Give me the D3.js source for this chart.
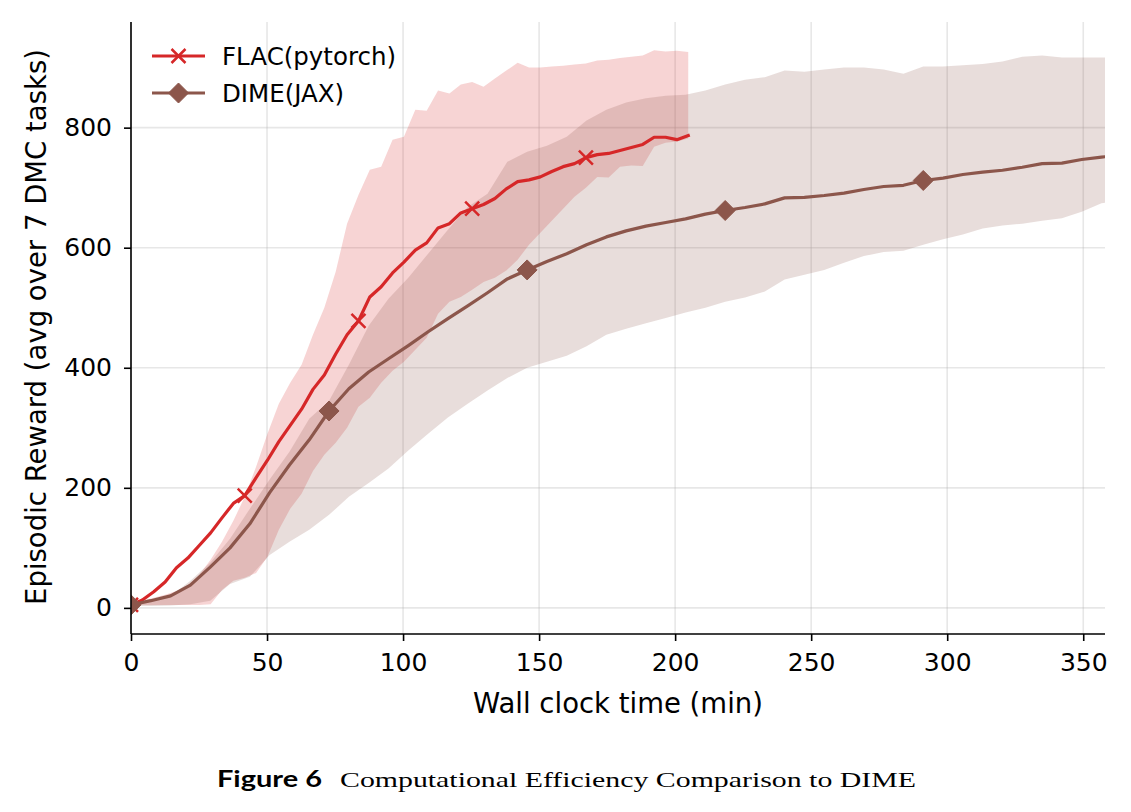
<!DOCTYPE html>
<html>
<head>
<meta charset="utf-8">
<script src="https://cdn.jsdelivr.net/npm/d3@7"></script>
<style>
  html, body { margin: 0; padding: 0; background: #fff; }
  svg { display: block; }
</style>
</head>
<body>
<div id="chart"></div>
<script>
// ---------------- DATA ----------------
const seriesNames = ["FLAC(pytorch)", "DIME(JAX)"];
const xTicks = [0, 50, 100, 150, 200, 250, 300, 350];
const yTicks = [0, 200, 400, 600, 800];

const flacTime = [0,4.18,8.36,12.54,16.72,20.9,25.08,29.26,33.44,37.62,41.8,45.98,50.16,54.34,58.52,62.7,66.88,71.06,75.24,79.42,83.6,87.78,91.96,96.14,100.32,104.5,108.68,112.86,117.04,121.22,125.4,129.58,133.76,137.94,142.12,146.3,150.48,154.66,158.84,163.02,167.2,171.38,175.56,179.74,183.92,188.1,192.28,196.46,200.64,204.82];
const flacMean = [5,13,27,43,67,83,104,125,150,174,187,217,246,277,304,331,364,388,423,455,478,518,535,558,576,596,608,633,640,658,665,672,682,698,710,713,718,727,735,740,750,755,757,762,767,772,784,784,780,787];
const flacHigh = [8,12,17,22,28,38,55,80,110,145,185,235,290,340,375,405,455,500,560,640,688,730,735,780,785,830,828,862,857,872,876,868,882,895,908,900,900,902,903,905,907,912,913,916,918,920,929,927,928,926];
const flacLow  = [5,5,5,5,5,5,5,6,30,45,50,58,85,130,165,190,228,255,275,300,335,350,375,395,410,430,450,490,510,518,530,543,550,562,580,605,625,645,665,685,700,718,717,735,737,736,768,775,777,782];

const dimeTime = [0,7.28,14.56,21.84,29.12,36.4,43.68,50.96,58.24,65.52,72.8,80.08,87.36,94.64,101.92,109.2,116.48,123.76,131.04,138.32,145.6,152.88,160.16,167.44,174.72,182,189.28,196.56,203.84,211.12,218.4,225.68,232.96,240.24,247.52,254.8,262.08,269.36,276.64,283.92,291.2,298.48,305.76,313.04,320.32,327.6,334.88,342.16,349.44,356.72,364];
const dimeMean = [5,12,20,38,68,100,140,192,238,280,328,365,393,415,437,460,482,503,525,548,563,577,590,605,618,628,636,642,648,656,662,667,673,683,684,687,691,697,702,704,712,716,722,726,729,734,740,741,747,751,754];
const dimeHigh = [8,12,20,45,75,115,165,214,260,315,345,405,470,515,550,590,630,668,690,743,760,770,785,812,830,842,849,853,855,862,872,880,884,895,893,897,900,900,897,890,902,902,904,906,910,918,920,917,917,917,917];
const dimeLow  = [3,3,4,6,12,40,52,88,110,130,155,185,208,232,262,290,317,340,362,383,400,410,420,436,455,465,474,483,492,500,510,517,527,547,555,563,575,586,593,595,605,614,622,632,637,640,645,649,660,674,680];

const colors = ["#d62728", "#8c564b"];

// ---------------- LAYOUT ----------------
const W = 1131, H = 812;
const margin = { left: 131, right: 26, top: 22, bottom: 178 };
const plotW = W - margin.left - margin.right;   // 974
const plotH = H - margin.top - margin.bottom;   // 612

const svg = d3.select("#chart").append("svg")
  .attr("width", W).attr("height", H)
  .style("font-family", "'DejaVu Sans', sans-serif");

const x = d3.scaleLinear().domain([0, 358]).range([margin.left, margin.left + plotW]);
const y = d3.scaleLinear().domain([-43.5, 976]).range([margin.top + plotH, margin.top]);

svg.append("defs").append("clipPath").attr("id", "clip")
  .append("rect").attr("x", margin.left).attr("y", margin.top)
  .attr("width", plotW).attr("height", plotH);

// grid
const grid = svg.append("g");
grid.selectAll(".gx").data(xTicks).enter().append("line")
  .attr("x1", d => x(d)).attr("x2", d => x(d))
  .attr("y1", margin.top).attr("y2", margin.top + plotH)
  .attr("stroke", "#b0b0b0").attr("stroke-opacity", 0.3).attr("stroke-width", 1.6);
grid.selectAll(".gy").data(yTicks).enter().append("line")
  .attr("x1", margin.left).attr("x2", margin.left + plotW)
  .attr("y1", d => y(d)).attr("y2", d => y(d))
  .attr("stroke", "#b0b0b0").attr("stroke-opacity", 0.3).attr("stroke-width", 1.6);

const plot = svg.append("g").attr("clip-path", "url(#clip)");

const series = [
  { name: seriesNames[0], t: flacTime, m: flacMean, hi: flacHigh, lo: flacLow, color: colors[0], marker: "x" },
  { name: seriesNames[1], t: dimeTime, m: dimeMean, hi: dimeHigh, lo: dimeLow, color: colors[1], marker: "D" }
];

const area = d3.area().x(d => x(d.t)).y0(d => y(d.lo)).y1(d => y(d.hi));
const line = d3.line().x(d => x(d.t)).y(d => y(d.m));

series.forEach(s => {
  s.pts = s.t.map((t, i) => ({ t, m: s.m[i], hi: s.hi[i], lo: s.lo[i], i }));
});

// bands
series.forEach(s => {
  plot.append("path").datum(s.pts).attr("d", area)
    .attr("fill", s.color).attr("fill-opacity", 0.2).attr("stroke", "none");
});

function drawMarker(g, type, cx, cy, color) {
  if (type === "x") {
    const r = 7;
    g.append("path")
      .attr("d", `M${cx - r},${cy - r}L${cx + r},${cy + r}M${cx - r},${cy + r}L${cx + r},${cy - r}`)
      .attr("stroke", color).attr("stroke-width", 2.5).attr("fill", "none");
  } else {
    const r = 10;
    g.append("path")
      .attr("d", `M${cx},${cy - r}L${cx + r},${cy}L${cx},${cy + r}L${cx - r},${cy}Z`)
      .attr("fill", color).attr("stroke", color).attr("stroke-width", 1);
  }
}

// lines + markers
series.forEach(s => {
  plot.append("path").datum(s.pts).attr("d", line)
    .attr("fill", "none").attr("stroke", s.color).attr("stroke-width", 3.2)
    .attr("stroke-linejoin", "round").attr("stroke-linecap", "square");
  const mg = plot.append("g");
  s.pts.filter(p => p.i % 10 === 0).forEach(p => drawMarker(mg, s.marker, x(p.t), y(p.m), s.color));
});

// axes
const tickFont = 25;
const xAxis = svg.append("g").attr("transform", `translate(0,${margin.top + plotH})`)
  .call(d3.axisBottom(x).tickValues(xTicks).tickSize(7).tickPadding(12).tickSizeOuter(0));
const yAxis = svg.append("g").attr("transform", `translate(${margin.left},0)`)
  .call(d3.axisLeft(y).tickValues(yTicks).tickSize(7).tickPadding(12).tickSizeOuter(0));
[xAxis, yAxis].forEach(a => {
  a.select(".domain").attr("stroke", "#000").attr("stroke-width", 1.6);
  a.selectAll(".tick line").attr("stroke", "#000").attr("stroke-width", 1.6);
  a.selectAll(".tick text").attr("fill", "#000")
    .style("font-family", "'DejaVu Sans', sans-serif").style("font-size", tickFont + "px");
});
yAxis.select(".domain").attr("d", `M0,${margin.top}V${margin.top + plotH}`);
xAxis.select(".domain").attr("d", `M${margin.left},0H${margin.left + plotW}`);

// axis labels
svg.append("text").attr("x", x(179)).attr("y", 713)
  .attr("text-anchor", "middle").style("font-size", "27.5px").attr("fill", "#000")
  .text("Wall clock time (min)");
svg.append("text")
  .attr("transform", `translate(46,327) rotate(-90)`)
  .attr("text-anchor", "middle").style("font-size", "27.5px").attr("fill", "#000")
  .text("Episodic Reward (avg over 7 DMC tasks)");

// legend
const leg = svg.append("g");
series.forEach((s, k) => {
  const ly = 56 + k * 37;
  leg.append("line").attr("x1", 152).attr("x2", 205).attr("y1", ly).attr("y2", ly)
    .attr("stroke", s.color).attr("stroke-width", 3.2);
  drawMarker(leg, s.marker, 178.5, ly, s.color);
  leg.append("text").attr("x", 222).attr("y", ly + 9)
    .style("font-size", "24.5px").attr("fill", "#000").text(s.name);
});

// caption
svg.append("text").attr("x", 217).attr("y", 787).attr("fill", "#000")
  .style("font-family", "'Lato', 'Open Sans', sans-serif").style("font-weight", "bold").style("font-size", "23px")
  .attr("textLength", 105).attr("lengthAdjust", "spacingAndGlyphs")
  .text("Figure 6");
svg.append("text").attr("x", 340).attr("y", 787).attr("fill", "#000")
  .style("font-family", "'Liberation Serif', 'DejaVu Serif', serif").style("font-size", "22px")
  .attr("textLength", 576).attr("lengthAdjust", "spacingAndGlyphs")
  .text("Computational Efficiency Comparison to DIME");
</script>
</body>
</html>
